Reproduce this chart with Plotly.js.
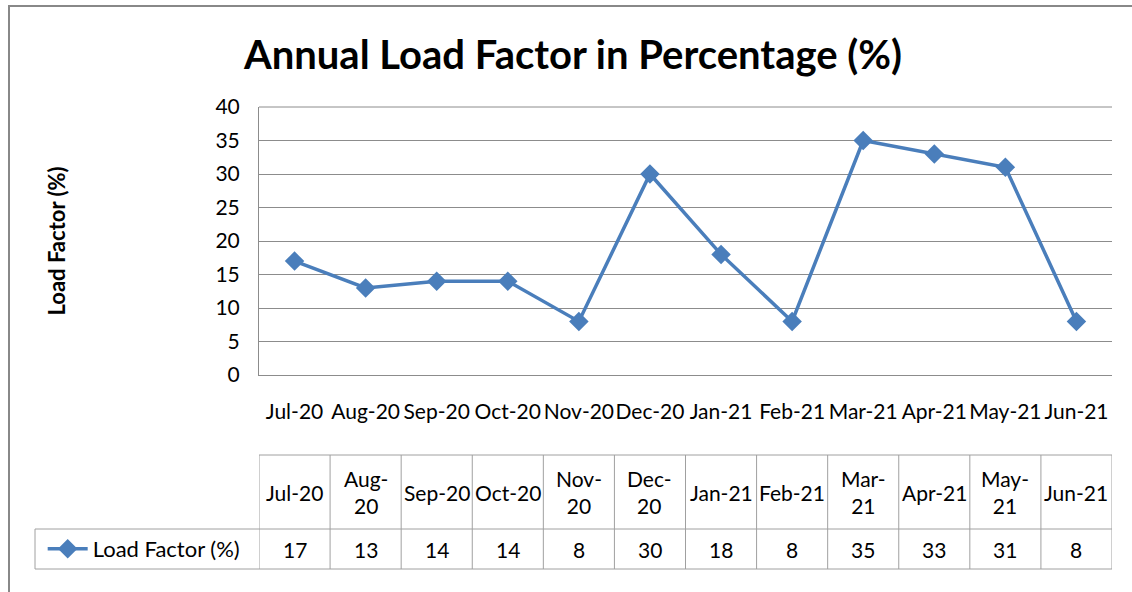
<!DOCTYPE html>
<html>
<head>
<meta charset="utf-8">
<script src="https://cdn.plot.ly/plotly-3.0.1.min.js"></script>
<style>html,body{margin:0;padding:0;background:#fff;}#chart{width:1132px;height:592px;}</style>
</head>
<body>
<div id="chart"></div>
<script>
const categories = ["Jul-20","Aug-20","Sep-20","Oct-20","Nov-20","Dec-20","Jan-21","Feb-21","Mar-21","Apr-21","May-21","Jun-21"];
const loadFactor = [17, 13, 14, 14, 8, 30, 18, 8, 35, 33, 31, 8];
const tableHeaders = ["Jul-20","Aug-<br>20","Sep-20","Oct-20","Nov-<br>20","Dec-<br>20","Jan-21","Feb-21","Mar-<br>21","Apr-21","May-<br>21","Jun-21"];
const seriesName = "Load Factor (%)";
const yTicks = [0, 5, 10, 15, 20, 25, 30, 35, 40];

const FONT = "Lato, 'Open Sans', sans-serif";
const GRID = "#8c8c8c";
const BLUE = "#4a7ebb";
const FS = 21;

// pixel helpers (plot area: x 259..1112, y 107..375)
const L = 259, R = 20, T = 107, B = 217, W = 1132, H = 592;
const pw = W - L - R, ph = H - T - B;
const px = v => (v - L) / pw;
const py = v => (H - B - v) / ph;

const tableTop = py(455), headBot = py(529), rowBot = py(569);
const legendLeft = px(35);

const shapes = [];
const lineStyle = {color: "#a0a0a0", width: 1};
// outer frame
shapes.push({type: "rect", xref: "paper", yref: "paper", x0: px(9), x1: px(1145), y0: py(6), y1: py(610),
  line: {color: "#888888", width: 2}, fillcolor: "rgba(0,0,0,0)"});
// table vertical lines
for (let i = 0; i <= categories.length; i++) {
  shapes.push({type: "line", xref: "x", yref: "paper", x0: i - 0.5, x1: i - 0.5, y0: tableTop, y1: rowBot, line: lineStyle});
}
shapes.push({type: "line", xref: "paper", yref: "paper", x0: legendLeft, x1: legendLeft, y0: headBot, y1: rowBot, line: lineStyle});
// table horizontal lines
shapes.push({type: "line", xref: "paper", yref: "paper", x0: 0, x1: 1, y0: tableTop, y1: tableTop, line: lineStyle});
shapes.push({type: "line", xref: "paper", yref: "paper", x0: legendLeft, x1: 1, y0: headBot, y1: headBot, line: lineStyle});
shapes.push({type: "line", xref: "paper", yref: "paper", x0: legendLeft, x1: 1, y0: rowBot, y1: rowBot, line: lineStyle});
// top border of plot area
shapes.push({type: "line", xref: "paper", yref: "paper", x0: 0, x1: 1, y0: 1, y1: 1, line: {color: GRID, width: 1}});

const annotations = [];
categories.forEach((c, i) => {
  annotations.push({xref: "x", yref: "paper", x: c, y: (tableTop + headBot) / 2, text: tableHeaders[i],
    showarrow: false, font: {family: FONT, size: FS, color: "#000"}, align: "center", yanchor: "middle"});
  annotations.push({xref: "x", yref: "paper", x: c, y: (headBot + rowBot) / 2, text: String(loadFactor[i]),
    showarrow: false, font: {family: FONT, size: FS, color: "#000"}, yanchor: "middle"});
});

const trace = {
  type: "scatter", mode: "lines+markers", name: seriesName,
  x: categories, y: loadFactor,
  line: {color: BLUE, width: 3.5},
  marker: {symbol: "diamond", size: 15, color: BLUE}
};

const layout = {
  width: W, height: H,
  margin: {l: L, r: R, t: T, b: B},
  paper_bgcolor: "#fff", plot_bgcolor: "#fff",
  font: {family: FONT, size: FS, color: "#000"},
  title: {text: "<b>Annual Load Factor in Percentage (%)</b>", x: 573 / W, xanchor: "center",
    y: 1 - 55 / H, yanchor: "middle", font: {family: FONT, size: 40, color: "#000"}},
  xaxis: {type: "category", range: [-0.5, categories.length - 0.5], showgrid: false, showline: true,
    linecolor: GRID, linewidth: 1, ticks: "", tickangle: 0, ticklabelstandoff: 18, tickfont: {family: FONT, size: FS},
    zeroline: false, fixedrange: true},
  yaxis: {range: [0, 40], tickvals: yTicks, showgrid: true, gridcolor: GRID, gridwidth: 1, showline: true,
    linecolor: GRID, linewidth: 1, ticks: "", ticklabelstandoff: 14, zeroline: false, mirror: false,
    tickfont: {family: FONT, size: FS},
    title: {text: "<b>Load Factor (%)</b>", standoff: 143, font: {family: FONT, size: 22}}},
  showlegend: true,
  legend: {x: legendLeft + 0.009, xanchor: "left", y: (headBot + rowBot) / 2, yanchor: "middle",
    font: {family: FONT, size: 22}, bgcolor: "rgba(0,0,0,0)", itemwidth: 40},
  shapes: shapes,
  annotations: annotations
};

Plotly.newPlot("chart", [trace], layout, {displayModeBar: false, staticPlot: true});
</script>
</body>
</html>
